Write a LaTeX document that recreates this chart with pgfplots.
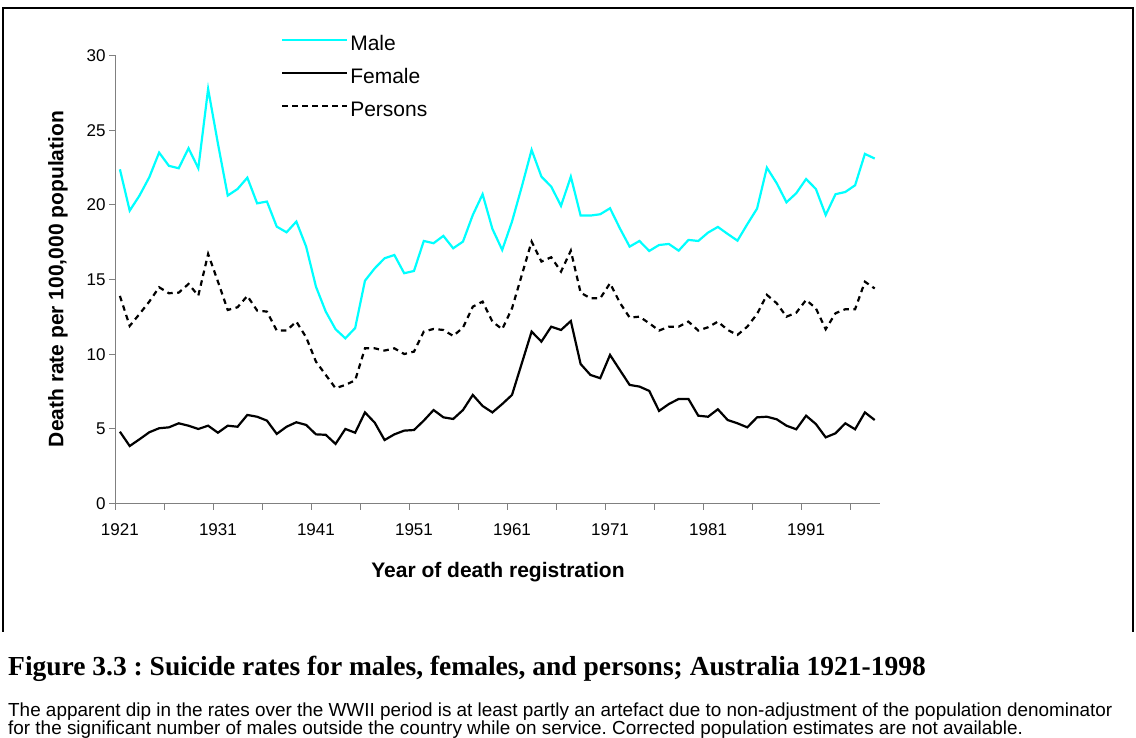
\documentclass[border=0pt]{standalone}
\usepackage{fontspec}
\setmainfont{Liberation Sans}
\newfontfamily\serifbold{Liberation Serif}
\usepackage{pgfplots}
\pgfplotsset{compat=1.18}
\definecolor{malecyan}{RGB}{0,255,255}
\definecolor{axgray}{RGB}{128,128,128}
\frenchspacing
\begin{document}
\begin{tikzpicture}[x=1pt,y=1pt]
\useasboundingbox (0,0) rectangle (1136,737);
\draw[line width=1.2pt] (3,105) -- (3,729) -- (1133,729) -- (1133,105);
\begin{axis}[
  at={(115pt,233.5pt)}, anchor=south west,
  width=764.6pt, height=448pt, scale only axis,
  xmin=1920.5, xmax=1998.5, ymin=0, ymax=30,
  axis x line*=bottom, axis y line*=left,
  axis line style={draw=axgray, line width=1pt, -},
  every tick/.style={draw=axgray, line width=1pt},
  tick align=outside, major tick length=6pt,
  xtick={1920.5,1925.5,...,1995.5}, xticklabels={},
  extra x ticks={1921,1931,1941,1951,1961,1971,1981,1991},
  extra x tick labels={1921,1931,1941,1951,1961,1971,1981,1991},
  extra x tick style={major tick length=0pt, xticklabel style={yshift=-17pt}},
  ytick={0,5,...,30},
  /pgf/number format/assume math mode=true,
  ticklabel style={font=\fontsize{17}{17}\selectfont},
  legend style={at={(axis description cs:0.213,1.0545)}, anchor=north west,
    draw=none, fill=none, font=\fontsize{21}{21}\selectfont, row sep=12.5pt,
    nodes={inner sep=2pt}},
  legend cell align=left,
  legend image code/.code={\draw[#1] (0pt,4pt) -- (65pt,4pt);},
  clip=false,
]
\addplot[malecyan, line width=2.2pt] coordinates {
(1921,22.38)(1922,19.61)(1923,20.62)(1924,21.85)(1925,23.50)(1926,22.61)(1927,22.45)(1928,23.79)(1929,22.45)(1930,27.76)
(1931,24.1)(1932,20.62)(1933,21.06)(1934,21.82)(1935,20.10)(1936,20.22)(1937,18.54)(1938,18.16)(1939,18.88)(1940,17.20)
(1941,14.52)(1942,12.85)(1943,11.67)(1944,11.06)(1945,11.75)(1946,14.92)(1947,15.75)(1948,16.42)(1949,16.64)(1950,15.42)
(1951,15.57)(1952,17.58)(1953,17.43)(1954,17.92)(1955,17.09)(1956,17.54)(1957,19.32)(1958,20.71)(1959,18.39)(1960,16.98)
(1961,18.88)(1962,21.22)(1963,23.68)(1964,21.89)(1965,21.22)(1966,19.93)(1967,21.89)(1968,19.28)(1969,19.28)(1970,19.37)
(1971,19.77)(1972,18.43)(1973,17.20)(1974,17.58)(1975,16.91)(1976,17.31)(1977,17.38)(1978,16.93)(1979,17.65)(1980,17.58)
(1981,18.14)(1982,18.52)(1983,18.05)(1984,17.60)(1985,18.70)(1986,19.75)(1987,22.49)(1988,21.45)(1989,20.17)(1990,20.78)
(1991,21.73)(1992,21.06)(1993,19.32)(1994,20.71)(1995,20.86)(1996,21.31)(1997,23.41)(1998,23.10)
};
\addlegendentry{Male}
\addplot[black, line width=2.2pt] coordinates {
(1921,4.81)(1922,3.85)(1923,4.30)(1924,4.77)(1925,5.04)(1926,5.10)(1927,5.37)(1928,5.21)(1929,4.99)(1930,5.21)
(1931,4.74)(1932,5.21)(1933,5.14)(1934,5.93)(1935,5.81)(1936,5.55)(1937,4.66)(1938,5.14)(1939,5.44)(1940,5.26)
(1941,4.63)(1942,4.60)(1943,3.99)(1944,4.99)(1945,4.74)(1946,6.10)(1947,5.41)(1948,4.25)(1949,4.63)(1950,4.88)
(1951,4.92)(1952,5.55)(1953,6.26)(1954,5.77)(1955,5.66)(1956,6.26)(1957,7.27)(1958,6.53)(1959,6.10)(1960,6.66)
(1961,7.27)(1962,9.39)(1963,11.51)(1964,10.84)(1965,11.84)(1966,11.62)(1967,12.22)(1968,9.34)(1969,8.61)(1970,8.39)
(1971,9.95)(1972,8.94)(1973,7.94)(1974,7.83)(1975,7.54)(1976,6.20)(1977,6.66)(1978,7.00)(1979,7.00)(1980,5.88)
(1981,5.81)(1982,6.31)(1983,5.59)(1984,5.37)(1985,5.10)(1986,5.77)(1987,5.81)(1988,5.64)(1989,5.21)(1990,4.97)
(1991,5.88)(1992,5.32)(1993,4.43)(1994,4.70)(1995,5.37)(1996,4.97)(1997,6.10)(1998,5.59)
};
\addlegendentry{Female}
\addplot[black, line width=2.2pt, dash pattern=on 5.5pt off 4.5pt] coordinates {
(1921,13.90)(1922,11.89)(1923,12.69)(1924,13.52)(1925,14.48)(1926,14.08)(1927,14.12)(1928,14.70)(1929,13.92)(1930,16.71)
(1931,14.86)(1932,12.96)(1933,13.14)(1934,13.90)(1935,12.92)(1936,12.85)(1937,11.58)(1938,11.58)(1939,12.18)(1940,11.13)
(1941,9.50)(1942,8.61)(1943,7.72)(1944,7.94)(1945,8.25)(1946,10.39)(1947,10.39)(1948,10.24)(1949,10.39)(1950,10.01)
(1951,10.17)(1952,11.51)(1953,11.69)(1954,11.62)(1955,11.22)(1956,11.78)(1957,13.18)(1958,13.52)(1959,12.18)(1960,11.67)
(1961,13.07)(1962,15.30)(1963,17.54)(1964,16.20)(1965,16.49)(1966,15.53)(1967,16.93)(1968,14.12)(1969,13.74)(1970,13.74)
(1971,14.75)(1972,13.45)(1973,12.45)(1974,12.51)(1975,12.07)(1976,11.58)(1977,11.84)(1978,11.84)(1979,12.18)(1980,11.58)
(1981,11.80)(1982,12.18)(1983,11.62)(1984,11.29)(1985,11.84)(1986,12.69)(1987,13.97)(1988,13.41)(1989,12.51)(1990,12.78)
(1991,13.63)(1992,13.07)(1993,11.67)(1994,12.74)(1995,13.01)(1996,13.01)(1997,14.85)(1998,14.40)
};
\addlegendentry{Persons}
\end{axis}
\node[rotate=90, font=\fontsize{21}{21}\selectfont\bfseries] at (58,737-279) {Death rate per 100,000 population};
\node[font=\fontsize{21}{21}\selectfont\bfseries] at (498,737-572) {Year of death registration};
\node[anchor=base west, inner sep=0pt, font=\serifbold\fontsize{27.5}{27.5}\selectfont\bfseries] at (8,737-675) {Figure 3.3 : Suicide rates for males, females, and persons; Australia 1921-1998};
\node[anchor=base west, inner sep=0pt, font=\fontsize{18.9}{18.9}\selectfont] at (8,737-716) {The apparent dip in the rates over the WWII period is at least partly an artefact due to non-adjustment of the population denominator};
\node[anchor=base west, inner sep=0pt, font=\fontsize{18.9}{18.9}\selectfont] at (8,737-734) {for the significant number of males outside the country while on service. Corrected population estimates are not available.};
\end{tikzpicture}
\end{document}
